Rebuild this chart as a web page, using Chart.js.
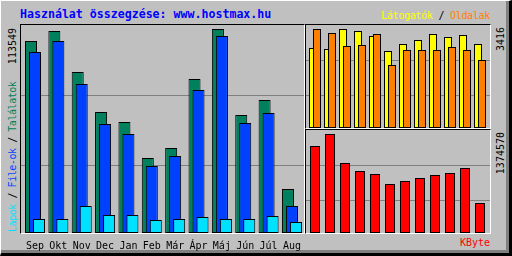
<!DOCTYPE html>
<html>
<head>
<meta charset="utf-8">
<script src="https://cdn.jsdelivr.net/npm/chart.js@4/dist/chart.umd.min.js"></script>
<style>
    body { margin: 0; background: #fff; }
    #kep { position: relative; width: 512px; height: 256px; background: #c0c0c0; overflow: hidden;
           font-family: "DejaVu Sans Mono", monospace; }
    .abs { position: absolute; }
    .keret { left: 0; top: 0; width: 512px; height: 256px; box-sizing: border-box;
             border-top: 1px solid #fff; border-left: 1px solid #fff;
             border-right: 3px solid #000; border-bottom: 3px solid #000; }
    .keret2 { left: 1px; top: 1px; width: 508px; height: 252px; box-sizing: border-box;
              border-right: 3px solid #808080; border-bottom: 3px solid #808080; }
    .doboz { border-top: 1px solid #000; border-left: 1px solid #000;
             border-right: 1px solid #fff; border-bottom: 1px solid #fff; }
    .fel { transform-origin: 0 0; transform: rotate(-90deg); white-space: nowrap;
           font-size: 10px; line-height: 10px; color: #000; }
    canvas { position: absolute; }
</style>
</head>
<body>
<div id="kep">
    <div class="abs keret"></div>
    <div class="abs keret2"></div>

    <div class="abs" style="left:20px; top:8px; font-weight:bold; font-size:11.6px; line-height:12px; color:#0000ff; white-space:nowrap;">Használat összegzése: www.hostmax.hu</div>
    <div class="abs" style="right:22px; top:11px; font-size:10px; line-height:10px; letter-spacing:-0.3px; white-space:nowrap;"><span style="color:#ffff00">Látogatók</span> / <span style="color:#ff8000">Oldalak</span></div>

    <div class="abs fel" style="left:8px; top:232px; letter-spacing:-0.45px;"><span style="color:#00e0ff">Lapok</span> / <span style="color:#0040ff">File-ok</span> / <span style="color:#00805c">Találatok</span></div>
    <div class="abs fel" id="max-fo" style="left:8px; top:108px; width:80px; text-align:right;"></div>
    <div class="abs fel" id="max-lat" style="left:495.5px; top:107px; width:80px; text-align:right;"></div>
    <div class="abs fel" id="max-kb" style="left:495.5px; top:212px; width:80px; text-align:right;"></div>
    <div class="abs" style="right:22px; top:238px; font-size:10px; line-height:10px; color:#ff0000;">KByte</div>

    <div class="abs doboz" style="left:20px; top:24px; width:283px; height:208px;"></div>
    <div class="abs doboz" style="left:305px; top:24px; width:184px; height:103px;"></div>
    <div class="abs doboz" style="left:305px; top:129px; width:184px; height:103px;"></div>

    <canvas id="fo-grafikon" width="283" height="230" style="left:21px; top:25px;"></canvas>
    <canvas id="latogato-grafikon" width="184" height="103" style="left:306px; top:25px;"></canvas>
    <canvas id="kbyte-grafikon" width="184" height="103" style="left:306px; top:130px;"></canvas>
</div>

<script>
// Hónapok és a havi értékek
const honapok = ['Sep', 'Okt', 'Nov', 'Dec', 'Jan', 'Feb', 'Már', 'Ápr', 'Máj', 'Jún', 'Júl', 'Aug'];
const talalatok = [106870, 112436, 89614, 67350, 61784, 41746, 47312, 85718, 113549, 65680, 74030, 24491];
const fileok = [100747, 106870, 82935, 60671, 55104, 37293, 42859, 79595, 109653, 61227, 66793, 15029];
const lapok = [7793, 7793, 15029, 10019, 10019, 7236, 7793, 8906, 7793, 7793, 9462, 6123];
const latogatok = [2760, 2726, 3416, 3347, 3174, 2657, 2898, 3036, 3243, 3140, 3209, 2898];
const oldalak = [3416, 3278, 2829, 2864, 3243, 2174, 2691, 2691, 2691, 2795, 2691, 2346];
const kbyte = [1207955, 1374570, 971918, 860841, 819187, 680342, 721996, 763650, 805303, 833072, 902495, 416536];

// Elrendezés (pixel)
const FO_LEPES = 23.36, FO_ELSO = 14, FO_SZELES = 283;
const KIS_LEPES = 15, KIS_ELSO = 9, KIS_SZELES = 184;

const fontKicsi = { family: 'DejaVu Sans Mono', size: 10, lineHeight: 1 };

// Pontok a lineáris x tengelyhez (hónap index + eltolás)
function pontok(ertekek, eltolas) {
    return ertekek.map((v, i) => ({ x: i + eltolas, y: v }));
}

function alapBeallitas(lepes, elso, szeles, yMax, racs) {
    return {
        animation: false,
        responsive: false,
        events: [],
        layout: { padding: 0 },
        plugins: { legend: { display: false }, tooltip: { enabled: false } },
        datasets: {
            bar: { grouped: false, borderWidth: 1, borderColor: '#000', borderSkipped: false, inflateAmount: 0 }
        },
        scales: {
            x: {
                type: 'linear',
                offset: false,
                min: -elso / lepes,
                max: (szeles - elso) / lepes,
                display: false,
                grid: { display: false, offset: false }
            },
            y: {
                min: 0,
                max: yMax,
                ticks: { display: false },
                border: { display: false },
                grid: { color: '#808080', drawTicks: false, lineWidth: 1 },
                afterBuildTicks: function(scale) {
                    scale.ticks = racs.map(f => ({ value: f * scale.max }));
                }
            }
        }
    };
}

// Fő grafikon: Találatok / File-ok / Lapok
const foOpt = alapBeallitas(FO_LEPES, FO_ELSO, FO_SZELES, Math.max(...talalatok) * 208 / 204, [0.3245, 0.661]);
foOpt.scales.x.display = true;
foOpt.scales.x.border = { display: false };
foOpt.scales.x.afterBuildTicks = function(scale) {
    scale.ticks = honapok.map((h, i) => ({ value: i }));
};
foOpt.scales.x.ticks = {
    autoSkip: false,
    maxRotation: 0,
    minRotation: 0,
    padding: 0,
    color: '#000',
    font: fontKicsi,
    callback: function(value) {
        return honapok[value];
    }
};

const foChart = new Chart(document.getElementById('fo-grafikon'), {
    type: 'bar',
    data: {
        datasets: [
            { data: pontok(talalatok, -4 / FO_LEPES), backgroundColor: '#00805c', barThickness: 12, order: 3 },
            { data: pontok(fileok, 0), backgroundColor: '#0040ff', barThickness: 12, order: 2 },
            { data: pontok(lapok, 4 / FO_LEPES), backgroundColor: '#00e0ff', barThickness: 12, order: 1 }
        ]
    },
    options: foOpt
});

// a rajzterület alja pontosan a doboz aljára kerüljön
const elteres = foChart.chartArea.bottom - 208;
if (Math.abs(elteres) > 0.01) {
    foChart.options.layout.padding = { bottom: elteres };
    foChart.update();
}

// Látogatók / Oldalak
new Chart(document.getElementById('latogato-grafikon'), {
    type: 'bar',
    data: {
        datasets: [
            { data: pontok(latogatok, -2 / KIS_LEPES), backgroundColor: '#ffff00', barThickness: 8, order: 2 },
            { data: pontok(oldalak, 2 / KIS_LEPES), backgroundColor: '#ff8000', barThickness: 8, order: 1 }
        ]
    },
    options: alapBeallitas(KIS_LEPES, KIS_ELSO, KIS_SZELES,
        Math.max(...latogatok, ...oldalak) * 103 / 99, [0.3155, 0.655])
});

// KByte
new Chart(document.getElementById('kbyte-grafikon'), {
    type: 'bar',
    data: {
        datasets: [
            { data: pontok(kbyte, 0), backgroundColor: '#ff0000', barThickness: 10 }
        ]
    },
    options: alapBeallitas(KIS_LEPES, KIS_ELSO, KIS_SZELES, Math.max(...kbyte) * 103 / 99, [0.3155, 0.655])
});

// Maximum értékek a tengelyek mellett
document.getElementById('max-fo').textContent = Math.max(...talalatok);
document.getElementById('max-lat').textContent = Math.max(...latogatok, ...oldalak);
document.getElementById('max-kb').textContent = Math.max(...kbyte);
</script>
</body>
</html>
